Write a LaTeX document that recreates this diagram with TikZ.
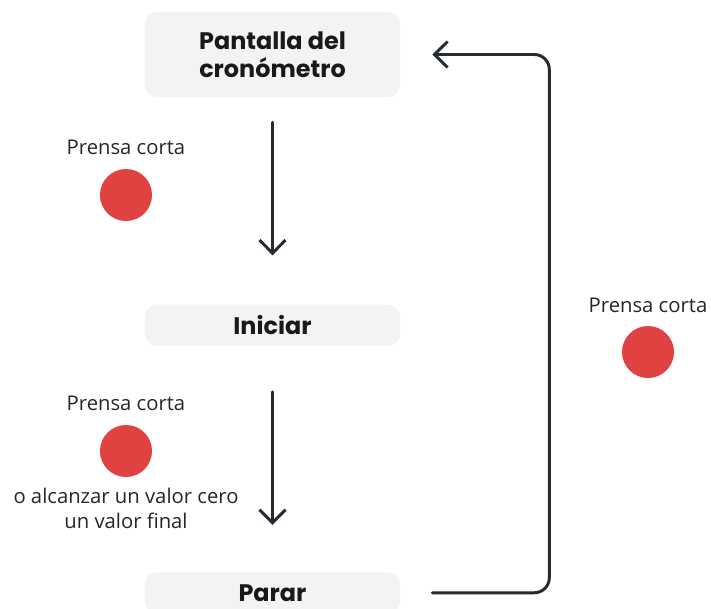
\documentclass[tikz,border=0pt]{standalone}
\usepackage{fontspec}
\setmainfont{Open Sans}
\newfontfamily\poppins{Poppins}
\usetikzlibrary{arrows.meta,positioning}
\definecolor{boxgray}{HTML}{F2F3F5}
\definecolor{dotred}{HTML}{E04141}
\definecolor{linedark}{HTML}{252A33}
\tikzset{
  stepbox/.style={fill=boxgray, rounded corners=0.3cm, align=center, minimum width=6.375cm, minimum height=1.025cm, text=black!90, font=\poppins\bfseries\fontsize{17}{20}\selectfont},
  dot/.style={circle, fill=dotred, minimum size=1.3cm, inner sep=0pt},
  note/.style={align=center, inner sep=1pt, text=black!85, font=\fontsize{14.4}{17.7}\selectfont},
  arrow/.style={-{Straight Barb[length=0.33cm, width=0.65cm]}, line width=2.1pt, draw=linedark, line cap=round, line join=round}
}
\begin{document}
\begin{tikzpicture}[x=0.025cm, y=-0.025cm]
  \useasboundingbox (0,0) rectangle (711,608);
  \node[stepbox, minimum height=2.125cm] (disp) at (272.5,54.5) {Pantalla del\\cronómetro};
  \node[stepbox, below=5.175cm of disp] (start) {Iniciar};
  \node[stepbox, below=5.65cm of start] (stop) {Parar};

  \draw[arrow, shorten <=0.625cm, shorten >=1.225cm] (disp) -- (start);
  \draw[arrow, shorten <=1.15cm, shorten >=1.175cm] (start) -- (stop);
  \draw[arrow, rounded corners=0.375cm, shorten <=0.8cm, shorten >=0.8cm] (stop.east) -- ++(149,0) |- (disp.east);

  % short press markers
  \node[dot] (press1) at (126,195) {};
  \node[note, above=0.3cm of press1] (lab1) {Prensa corta};
  \node[dot] (press2) at (126,451) {};
  \node[note, above=0.3cm of press2] (lab2) {Prensa corta};
  \node[note, below=0.225cm of press2] (lab2b) {o alcanzar un valor cero\\un valor final};
  \node[dot] (press3) at (648,352) {};
  \node[note, above=0.28cm of press3] (lab3) {Prensa corta};
\end{tikzpicture}
\end{document}
